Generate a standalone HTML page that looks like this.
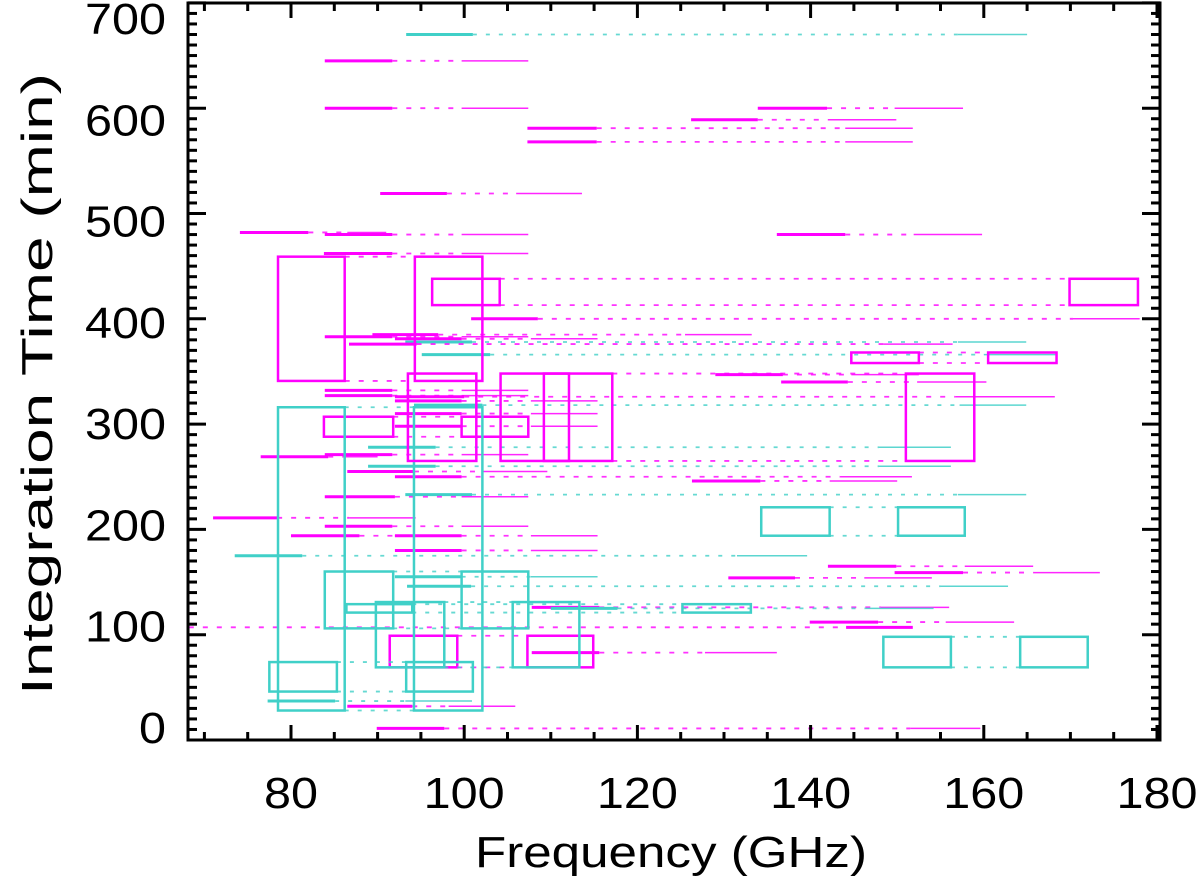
<!DOCTYPE html>
<html><head><meta charset="utf-8"><style>
html,body{margin:0;padding:0;background:#fff;}
svg{display:block;font-family:"Liberation Sans",sans-serif;}
</style></head><body>
<svg id="chart" width="1200" height="881" viewBox="0 0 1200 881" xmlns="http://www.w3.org/2000/svg">
<g id="marks"></g>
<g id="axes"></g>
<text x="475" y="867" font-size="44" textLength="392" lengthAdjust="spacingAndGlyphs">Frequency (GHz)</text>
<text transform="translate(52,695) rotate(-90)" font-size="44" textLength="622" lengthAdjust="spacingAndGlyphs">Integration Time (min)</text>
</svg>
<script>
const xTicks = [80, 100, 120, 140, 160, 180];
const yTicks = [0, 100, 200, 300, 400, 500, 600, 700];
const colorNames = ['magenta', 'cyan'];
// sideband lines: [thickStart, thickEnd, thinStart, thinEnd, time, colorIdx]
const lines = [
 [93.3,101,157,165,670,1],
 [83.9,91.7,99.7,107.4,645,0],
 [83.9,91.7,99.7,107.4,600,0],
 [133.9,141.9,149.7,157.6,600,0],
 [126.2,133.9,142,149.9,589,0],
 [107.3,115.3,144,151.8,581,0],
 [107.3,115.3,144,151.8,568,0],
 [90.3,98,106,113.6,519,0],
 [74.1,82,86.5,91,482,0],
 [83.9,91.7,99.7,107.4,480,0],
 [136.1,144,151.9,159.8,480,0],
 [83.8,91.7,99.7,107.4,462,0],
 [100.8,108.5,170.3,178,400,0],
 [83.9,91.7,99.7,107.4,383,0],
 [89.4,97,125.5,133.2,385,0],
 [92,99.7,107.7,115.4,381,0],
 [93.2,100.9,157,164.9,378,1],
 [86.7,94.5,148.4,156.4,376,0],
 [95.1,103,160,168.3,366,1],
 [129,136.8,144.7,152.5,347,0],
 [136.6,144.3,152.3,160.3,340,0],
 [83.9,91.7,99.7,107.4,332,0],
 [83.9,91.7,99.7,107.4,327,0],
 [92,100,156.7,168.2,326,0],
 [92,99.7,107.7,115.4,322,0],
 [94.2,102.1,157.2,164.9,318,1],
 [92,99.7,107.7,115.4,310,0],
 [92,99.7,107.7,115.4,298,0],
 [88.9,96.7,147.9,156.2,278,1],
 [83.9,91.7,99.7,107.4,271,0],
 [76.5,84.3,86,90,269,0],
 [88.9,96.7,147.9,156.2,260,1],
 [86.5,94.2,102.1,109.6,255,0],
 [92,99.7,143.4,151.7,250,0],
 [126.3,134.2,142.2,150,246,0],
 [93.2,100.9,157,164.9,233,1],
 [83.9,92,99.7,107.4,231,0],
 [71,78.4,86.7,94.4,211,0],
 [83.9,91.7,99.7,107.4,203,0],
 [80,87.9,92,99.7,194,0],
 [92,99.7,107.7,115.4,194,0],
 [92,99.7,107.7,115.4,180,0],
 [73.5,81.3,131.5,139.6,175,1],
 [142,149.9,157.8,165.7,165,0],
 [149.7,157.6,165.7,173.4,159,0],
 [92,99.7,107.7,115.4,155,1],
 [130.5,138.2,146.2,154,154,0],
 [93.4,100.8,155,162.8,146,1],
 [107.8,115.6,148.1,156,126,0],
 [110,117.7,146.3,154.2,125,1],
 [139.9,147.8,155.6,163.5,112,0],
 [107.8,115.6,127.8,136.1,83,0],
 [86.5,94,98.2,105.9,32,0],
 [77.3,85.1,93.2,100.9,37,1],
 [89.9,97.7,151.5,159.6,11,0]
];
// dotted-only lines with thick end: [dotStart, dotEnd, thickEnd, time, colorIdx]
const longLines = [
 [68.2,144.1,151.8,107,0]
];
// box pairs: [f1, f2, f3, f4, tLow, tHigh, colorIdx]
const boxPairs = [
 [78.5,86.2,94.3,102.1,341,459,0],
 [96.3,104.1,169.9,177.8,413,438,0],
 [109.2,117.1,151,158.9,265,348,0],
 [83.8,91.8,99.7,107.4,288,307,0],
 [91.4,99.2,107.3,114.9,69,99,0],
 [144.7,152.5,160.5,168.4,358,368,0],
 [78.5,86.2,94.2,102.1,28,316,1],
 [83.9,91.8,99.7,107.4,106,160,1],
 [89.8,97.7,105.6,113.3,69,131,1],
 [77.5,85.3,93.3,101,46,74,1],
 [86.4,94,125.2,133.1,121,129,1],
 [134.3,142.2,150.1,157.8,194,221,1],
 [148.4,156.2,164.2,172,69,98,1]
];
// single boxes: [f1, f2, tLow, tHigh, colorIdx]
const boxes = [
 [93.5,101.4,265,348,0],
 [104.2,112.1,265,348,0]
];

const X0=291, XS=8.66, Y0=740, YS=1.053;
const L=188, R=1160, T=3, B=740;
function xs(f){return X0+(f-80)*XS;}
function ys(t){return Y0-t*YS;}
const COL=['#ff00ff','#40d0c8'];
const NS='http://www.w3.org/2000/svg';
const marks=document.getElementById('marks');
const axes=document.getElementById('axes');
function mk(parent,tag,attrs){const e=document.createElementNS(NS,tag);for(const k in attrs)e.setAttribute(k,attrs[k]);parent.appendChild(e);return e;}
function seg(f1,f2,t,c,w,dash,op){
  const e=mk(marks,'line',{x1:xs(f1),x2:xs(f2),y1:ys(t),y2:ys(t),stroke:COL[c],'stroke-width':w});
  if(dash)e.setAttribute('stroke-dasharray',dash);
  if(op)e.setAttribute('opacity',op);
  return e;
}
const DASH=['5,9','4,9'];
lines.forEach(d=>{
  let e=seg(d[0],d[1],d[4],d[5],3,null);
  
  
  e=seg(d[1],d[2],d[4],d[5],1.8,DASH[d[5]],0.8);
  
  
  e=seg(d[2],d[3],d[4],d[5],1.5,null,0.85);
  
  
});
longLines.forEach(d=>{
  let e=seg(d[0],d[1],d[3],d[4],1.8,DASH[d[4]],0.8);
  
  
  e=seg(d[1],d[2],d[3],d[4],3,null);
  
  
});
function box(f1,f2,t1,t2,c){
  const e=mk(marks,'rect',{x:xs(f1),y:ys(t2),width:xs(f2)-xs(f1),height:ys(t1)-ys(t2),fill:'none',stroke:COL[c],'stroke-width':2.5});
  
  
}
boxPairs.forEach(d=>{
  box(d[0],d[1],d[4],d[5],d[6]);
  box(d[2],d[3],d[4],d[5],d[6]);
  [d[4],d[5]].forEach(t=>{
    const e=seg(d[1],d[2],t,d[6],1.8,DASH[d[6]],0.8);
    
    
  });
});
boxes.forEach(d=>box(d[0],d[1],d[2],d[3],d[4]));

// axes frame
const fr=mk(axes,'rect',{x:L,y:T,width:R-L,height:B-T,fill:'none',stroke:'#000','stroke-width':3});


for(let f=70;f<=180;f+=5){
  const major=f%20===0, len=major?15:8, x=xs(f);
  const a=mk(axes,'line',{x1:x,x2:x,y1:B,y2:B-len,stroke:'#000','stroke-width':3});
  
  
  const b=mk(axes,'line',{x1:x,x2:x,y1:T,y2:T+len,stroke:'#000','stroke-width':3});
  
  
}
for(let t=0;t<=700;t+=10){
  const major=t%100===0, len=major?18:9, y=ys(t);
  const a=mk(axes,'line',{x1:L,x2:L+len,y1:y,y2:y,stroke:'#000','stroke-width':3});
  
  
  const b=mk(axes,'line',{x1:R,x2:R-len,y1:y,y2:y,stroke:'#000','stroke-width':3});
  
  
}
xTicks.forEach(v=>{
  const s=String(v);
  const e=mk(axes,'text',{x:xs(v),y:808,'font-size':44,'text-anchor':'middle',textLength:s.length*27,lengthAdjust:'spacingAndGlyphs'});
  e.textContent=s;
  
  
});
yTicks.forEach(v=>{
  const s=String(v);
  const yc=727-v/700*709;
  const e=mk(axes,'text',{x:166,y:yc+16,'font-size':44,'text-anchor':'end',textLength:s.length*27,lengthAdjust:'spacingAndGlyphs'});
  e.textContent=s;
  
  
});
</script>
</body></html>
